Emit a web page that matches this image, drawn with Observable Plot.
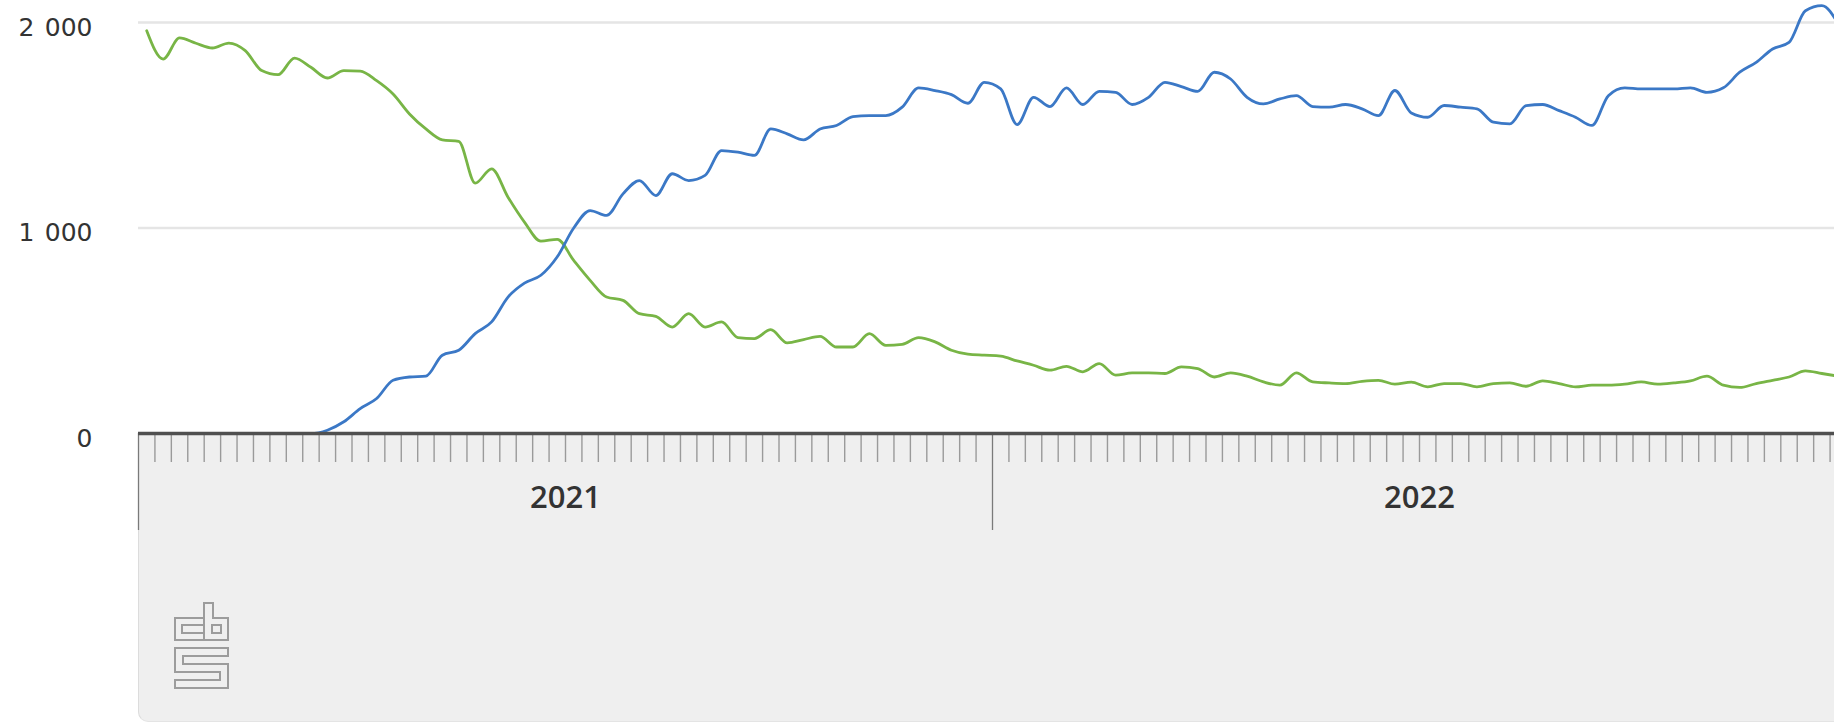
<!DOCTYPE html>
<html>
<head>
<meta charset="utf-8">
<script src="https://cdn.jsdelivr.net/npm/d3@7"></script>
<script src="https://cdn.jsdelivr.net/npm/@observablehq/plot@0.6"></script>
<style>
  html, body { margin: 0; padding: 0; background: #fff; overflow: hidden; width: 1834px; height: 725px; }
  #wrap { position: relative; width: 1834px; height: 725px; overflow: hidden; }
  #panel { position: absolute; left: 138px; top: 433px; width: 1760px; height: 289px; background: #efefef;
           border-left: 1px solid #dcdcdc; border-bottom: 1px solid #e4e4e4; border-bottom-left-radius: 10px; box-sizing: border-box; }
  #chart { position: absolute; left: 0; top: 0; width: 1850px; }
  #chart svg { max-width: none !important; }
  #logo { position: absolute; left: 170px; top: 598px; }
</style>
</head>
<body>
<div id="wrap">
  <div id="panel"></div>
  <svg id="logo" width="64" height="96" viewBox="0 0 64 96">
    <g fill="none" stroke="#9c9c9c" stroke-width="2">
      <path d="M34 20 H5 V42 H34 V35 H12 V27 H34 Z"/>
      <path d="M34 5 H43 V20 H58 V42 H34 Z"/>
      <path d="M42 27 H51 V35 H42 Z"/>
      <path d="M5 50 H58 V58 H13 V66 H58 V90 H5 V82 H50 V74 H5 Z"/>
    </g>
  </svg>
  <div id="chart"></div>
</div>
<script>
// Year categories and weeks per year
const years = ["2021", "2022"];
const weeksPerYear = [52, 52];

// Weekly values (2021 week 1 .. 2022 week 52)
const greenSeries = [
  1960, 1822, 1925, 1899, 1876, 1900, 1863, 1766, 1746, 1827, 1782, 1730, 1766,
  1763, 1717, 1652, 1555, 1482, 1429, 1422, 1218, 1288, 1150, 1029, 936, 945,
  842, 745, 664, 648, 583, 570, 518, 583, 518, 543, 467, 462, 505,
  441, 457, 473, 421, 421, 486, 429, 434, 467, 446, 405, 386, 381,
  376, 353, 332, 308, 327, 300, 340, 284, 295, 295, 292, 324, 316,
  275, 295, 279, 251, 235, 295, 251, 246, 243, 254, 259, 240, 250,
  227, 243, 243, 227, 243, 246, 230, 256, 243, 227, 235, 235, 240,
  251, 240, 246, 256, 279, 235, 224, 243, 259, 275, 305, 292, 279
];
const blueSeries = [
  0, 0, 0, 0, 0, 0, 0, 0, 0, 0, 0, 16, 57,
  121, 170, 259, 275, 279, 381, 405, 486, 543, 664, 732, 770, 860,
  1000, 1085, 1061, 1166, 1231, 1158, 1264, 1231, 1256, 1377, 1369, 1353, 1482,
  1458, 1429, 1482, 1499, 1542, 1547, 1547, 1588, 1682, 1669, 1649, 1607, 1709,
  1677, 1503, 1636, 1591, 1682, 1601, 1665, 1660, 1601, 1636, 1709, 1688, 1665,
  1758, 1725, 1636, 1604, 1628, 1644, 1591, 1588, 1601, 1580, 1547, 1669, 1560,
  1539, 1596, 1588, 1580, 1515, 1507, 1596, 1601, 1571, 1539, 1499, 1644, 1682,
  1677, 1677, 1677, 1682, 1660, 1682, 1758, 1806, 1871, 1903, 2057, 2082, 1993
];
const yTicks = [0, 1000, 2000];

const totalWeeks = d3.sum(weeksPerYear);
const rows = greenSeries.map((g, i) => ({ t: i + 0.5, green: g, blue: blueSeries[i] }));
const yearStarts = years.map((_, i) => d3.sum(weeksPerYear.slice(0, i)));
const yearBounds = [...yearStarts, totalWeeks];
const yearCenters = years.map((_, i) => yearStarts[i] + weeksPerYear[i] / 2);
const weekBounds = d3.range(1, totalWeeks).filter(k => !yearBounds.includes(k));
const fmt = d => d3.format(",")(d).replace(/,/g, "\u00a0\u200a");

const chart = Plot.plot({
  width: 1850,
  height: 725,
  marginLeft: 138,
  marginRight: 4,
  marginTop: 22,
  marginBottom: 292,
  x: { domain: [0, totalWeeks], axis: null, label: null },
  y: { domain: [0, 2000], axis: null, label: null },
  style: { background: "transparent", overflow: "visible", maxWidth: "none", fontFamily: "'Open Sans', sans-serif", fontSize: "24px", color: "#333" },
  marks: [
    Plot.ruleY([1000, 2000], { stroke: "#e5e5e5", strokeWidth: 2.5 }),
    Plot.line(rows, { x: "t", y: "green", stroke: "#78b546", strokeWidth: 2.8, curve: "monotone-x" }),
    Plot.line(rows, { x: "t", y: "blue", stroke: "#3b78c6", strokeWidth: 2.8, curve: "monotone-x" }),
    Plot.axisX(weekBounds, { tickSize: 29, tickFormat: () => "", label: null, stroke: "#9a9a9a", strokeWidth: 1.4 }),
    Plot.axisX(yearBounds, { tickSize: 97, tickFormat: () => "", label: null, stroke: "#7a7a7a", strokeWidth: 1.3 }),
    Plot.ruleY([0], { stroke: "#505050", strokeWidth: 3.5 }),
    Plot.axisY(yTicks, { tickSize: 0, tickPadding: 46, tickFormat: fmt, label: null, fontSize: 25, fontFamily: "'DejaVu Sans', sans-serif", fill: "#333", dy: 5 }),
    Plot.text(years, { x: yearCenters, frameAnchor: "bottom", lineAnchor: "middle", dy: 65, fontSize: 31, fontWeight: 600, fill: "#333" })
  ]
});
document.getElementById("chart").appendChild(chart);
</script>
</body>
</html>
